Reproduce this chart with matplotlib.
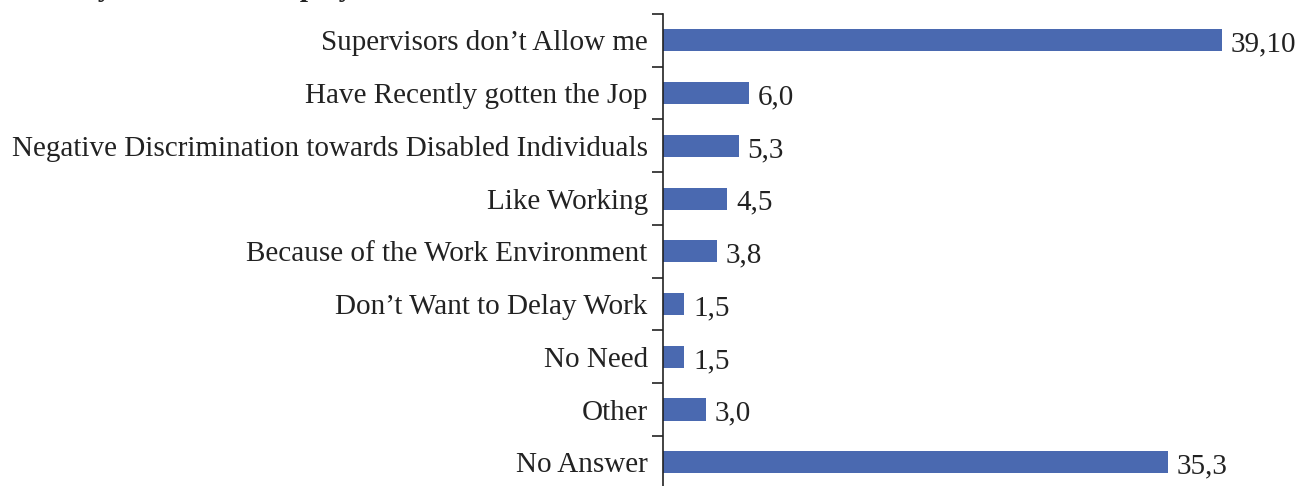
import numpy as np
import matplotlib
matplotlib.use('Agg')
import matplotlib.pyplot as plt

plt.rcParams['font.family'] = ['Liberation Serif', 'DejaVu Serif']

categories = [
    'Supervisors don\u2019t Allow me',
    'Have Recently gotten the Jop',
    'Negative Discrimination towards Disabled Individuals',
    'Like Working',
    'Because of the Work Environment',
    'Don\u2019t Want to Delay Work',
    'No Need',
    'Other',
    'No Answer',
]
values = [39.10, 6.0, 5.3, 4.5, 3.8, 1.5, 1.5, 3.0, 35.3]
value_labels = ['39,10', '6,0', '5,3', '4,5', '3,8', '1,5', '1,5', '3,0', '35,3']
title = 'Reason Why Not to Use Employment Leave'

W, H = 1304, 486
fig = plt.figure(figsize=(W / 100, H / 100), dpi=100)
ax = fig.add_axes([663 / W, 0, 1 - 663 / W, (H - 14) / H])

y = np.arange(len(categories))
ax.barh(y, values, height=0.42, color='#4a69b0', zorder=2)

for yi, v, lab in zip(y, values, value_labels):
    ax.text(v + 0.6, yi + 0.08, lab, va='center', ha='left', fontsize=21, color='#222222')

ax.set_xlim(0, (W - 663) / 14.3)
ax.set_ylim(len(categories) - 0.55, -0.5)

ax.set_yticks(y)
ax.set_yticklabels(categories, fontsize=21, color='#222222')
ax.set_yticks(np.arange(len(categories)) - 0.5, minor=True)
ax.tick_params(axis='y', which='major', length=0, pad=11)
ax.tick_params(axis='y', which='minor', length=8, width=1.2, color='#222222')
ax.set_xticks([])

for s in ['top', 'right', 'bottom']:
    ax.spines[s].set_visible(False)
ax.spines['left'].set_linewidth(1.2)
ax.spines['left'].set_color('#222222')

# title sits above the crop, only its descenders show
fig.text(-45 / W, 1 + 4 / H, title, fontsize=21, fontweight='bold',
         ha='left', va='baseline', color='#222222')

fig.savefig('out.png', dpi=100)
